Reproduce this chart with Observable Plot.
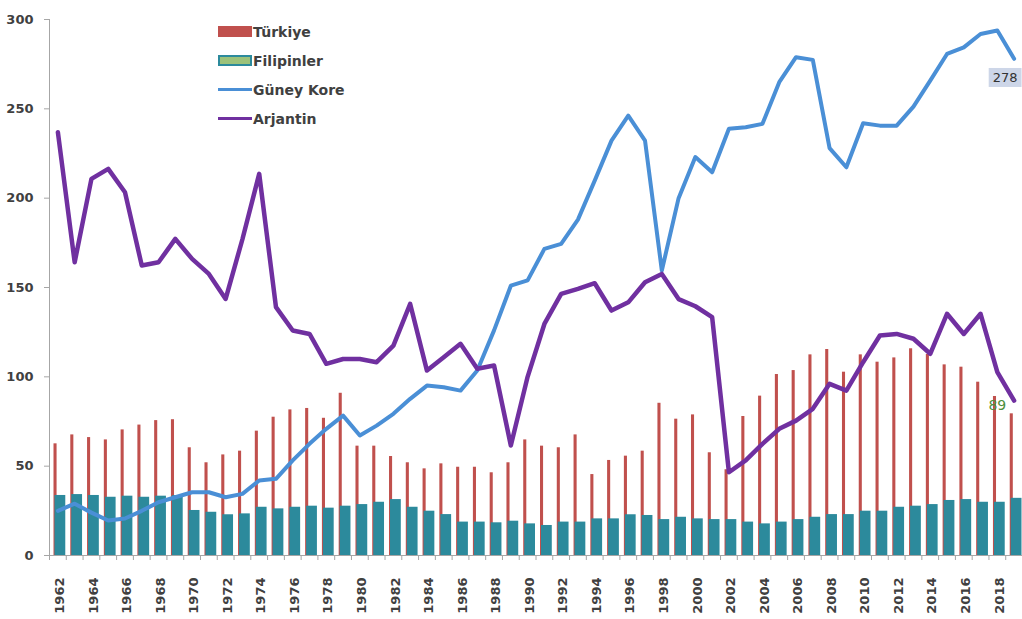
<!DOCTYPE html>
<html>
<head>
<meta charset="utf-8">
<script src="https://cdn.jsdelivr.net/npm/d3@7"></script>
<script src="https://cdn.jsdelivr.net/npm/@observablehq/plot@0.6"></script>
<style>
  html, body { margin: 0; padding: 0; background: #ffffff; }
  #wrap { position: relative; width: 1022px; height: 619px; overflow: hidden; }
  #legend { position: absolute; left: 218px; top: 17px; font: bold 14px "DejaVu Sans", sans-serif; color: #404040; }
  .row { display: flex; align-items: center; height: 29px; }
  .sw { width: 34px; margin-right: 1px; box-sizing: border-box; }
  .bar-tr { height: 11px; background: #C0504D; }
  .bar-ph { height: 11px; background: #9CC27A; border: 2px solid #2C8A9C; }
  .ln { height: 3px; }
</style>
</head>
<body>
<div id="wrap">
  <div id="chart"></div>
  <div id="legend"></div>
</div>
<script>
// ---- Data ----
const years = d3.range(1962, 2020);

const turkiye = [62.5, 67.5, 66, 64.7, 70.3, 73, 75.5, 76, 60.3, 51.9,
  56.3, 58.4, 69.6, 77.4, 81.5, 82.3, 76.8, 90.8, 61.2, 61.2,
  55.4, 51.9, 48.5, 51.3, 49.4, 49.4, 46.3, 51.9, 64.7, 61.2,
  60.3, 67.5, 45.3, 53.2, 55.6, 58.4, 85.2, 76.3, 78.7, 57.5,
  48, 77.8, 89.2, 101.3, 103.5, 112.3, 115.3, 102.6, 112.3, 108.2,
  110.6, 115.7, 112.5, 106.7, 105.4, 97, 89, 79.3];

const filipinler = [33.6, 34.1, 33.6, 32.6, 33.2, 32.6, 33.2, 33.5, 25.2, 24.2,
  22.8, 23.3, 27, 26.1, 27, 27.6, 26.5, 27.6, 28.5, 29.8,
  31.3, 27, 24.8, 22.9, 18.7, 18.7, 18.3, 19.2, 17.7, 16.8,
  18.7, 18.7, 20.5, 20.5, 22.8, 22.4, 20.1, 21.4, 20.5, 20.1,
  20.1, 18.7, 17.7, 18.7, 20.1, 21.4, 22.9, 22.9, 24.8, 24.8,
  27, 27.6, 28.5, 30.8, 31.3, 29.8, 29.8, 32];

const guneyKore = [25, 29, 24, 19.6, 20.7, 25, 29.8, 32.6, 35.4, 35.4,
  32.6, 34.5, 42, 42.9, 53.2, 62.5, 70.9, 78.3, 67.2, 72.7,
  79.3, 87.7, 95.1, 94.2, 92.3, 103.5, 126, 151, 154, 171.6,
  174.4, 188, 209.8, 232.2, 246.2, 232.2, 159.5, 200, 223, 214.5,
  238.8, 239.7, 241.6, 264.9, 278.9, 277.4, 228, 217.3, 241.9, 240.6,
  240.6, 251.2, 265.8, 280.7, 284.4, 291.9, 293.8, 278];

const arjantin = [236.9, 164.1, 210.8, 216.4, 203.3, 162.3, 164.1, 177.2, 166, 157.6,
  143.6, 177, 213.6, 139, 125.9, 124, 107.3, 110, 110, 108.2,
  117.5, 140.8, 103.5, 111, 118.5, 104.5, 106.3, 61.6, 100, 129.6,
  146.4, 149.2, 152.4, 137.1, 141.7, 152.9, 157.6, 143.5, 139.5, 133.4,
  46.6, 53.2, 62.5, 70.9, 75.5, 82.1, 96.1, 92.3, 108.2, 123.1,
  124, 121.3, 112.9, 135.3, 124, 135.3, 102.6, 86.7];

const yTicks = [0, 50, 100, 150, 200, 250, 300];
const xLabelYears = years.filter(y => y % 2 === 0);

const seriesNames = ["Türkiye", "Filipinler", "Güney Kore", "Arjantin"];
const colors = { tr: "#C0504D", ph: "#2C8A9C", kr: "#4A8FD6", ar: "#7030A0" };

const data = years.map((year, i) => ({
  year, tr: turkiye[i], ph: filipinler[i], kr: guneyKore[i], ar: arjantin[i]
}));

// ---- Layout ----
const W = 1022, H = 619;
const mL = 49, mR = 0, mT = 19, mB = 64;
const bw = (W - mL - mR) / years.length;
const axisGray = "#A6A6A6";
const textCol = "#404040";

const chart = Plot.plot({
  width: W, height: H,
  marginLeft: mL, marginRight: mR, marginTop: mT, marginBottom: mB,
  style: { fontFamily: "'DejaVu Sans', sans-serif", fontSize: "13px", fontWeight: "bold", background: "#ffffff", overflow: "visible" },
  x: { type: "band", domain: years, padding: 0, label: null, axis: null },
  y: { domain: [0, 300], label: null, axis: null },
  marks: [
    Plot.barY(data, { x: "year", y: "tr", fill: colors.tr, insetLeft: 4.5, insetRight: 9.2 }),
    Plot.barY(data, { x: "year", y: "ph", fill: colors.ph, insetLeft: 5.5, insetRight: 0.5 }),
    Plot.frame({ anchor: "left", stroke: axisGray }),
    Plot.frame({ anchor: "bottom", stroke: axisGray }),
    Plot.axisY({ ticks: yTicks, tickSize: 5, tickPadding: 11, stroke: axisGray, fill: textCol, label: null }),
    Plot.axisX({ ticks: years, tickSize: 5, tickFormat: () => "", dx: -bw / 2, stroke: axisGray, label: null }),
    Plot.axisX({ ticks: xLabelYears, tickSize: 0, tickPadding: 22, tickRotate: -90, tickFormat: d => String(d), fill: textCol, dx: 2, label: null }),
    Plot.lineY(data, { x: "year", y: "kr", stroke: colors.kr, strokeWidth: 4 }),
    Plot.lineY(data, { x: "year", y: "ar", stroke: colors.ar, strokeWidth: 4.5 }),
    Plot.text(data.filter(d => d.year === 2018), {
      x: "year", y: "tr", text: d => String(Math.round(d.tr)), dy: 9,
      fill: "#4E8F3E", fontWeight: "normal", fontSize: 14
    }),
    Plot.text(data.filter(d => d.year === 2019), {
      x: "year", y: "kr", text: d => String(Math.round(d.kr)), dx: -9, dy: 19,
      fill: "#333333", fontWeight: "normal", fontSize: 13, className: "lbl-kr"
    })
  ]
});

document.getElementById("chart").appendChild(chart);

// background box behind the Güney Kore end label
d3.select(chart).selectAll(".lbl-kr text").each(function () {
  const b = this.getBBox();
  const g = this.parentNode;
  const rect = document.createElementNS("http://www.w3.org/2000/svg", "rect");
  rect.setAttribute("x", b.x - 4);
  rect.setAttribute("y", b.y - 2);
  rect.setAttribute("width", b.width + 8);
  rect.setAttribute("height", b.height + 4);
  rect.setAttribute("fill", "#CDD6E8");
  const tr = this.getAttribute("transform");
  if (tr) rect.setAttribute("transform", tr);
  g.insertBefore(rect, this);
});

// ---- Legend ----
const legend = d3.select("#legend");
const legendItems = [
  { name: seriesNames[0], cls: "sw bar-tr" },
  { name: seriesNames[1], cls: "sw bar-ph" },
  { name: seriesNames[2], cls: "sw ln", color: colors.kr },
  { name: seriesNames[3], cls: "sw ln", color: colors.ar }
];
legendItems.forEach(it => {
  const row = legend.append("div").attr("class", "row");
  const sw = row.append("div").attr("class", it.cls);
  if (it.color) sw.style("background", it.color);
  row.append("span").text(it.name);
});
</script>
</body>
</html>
